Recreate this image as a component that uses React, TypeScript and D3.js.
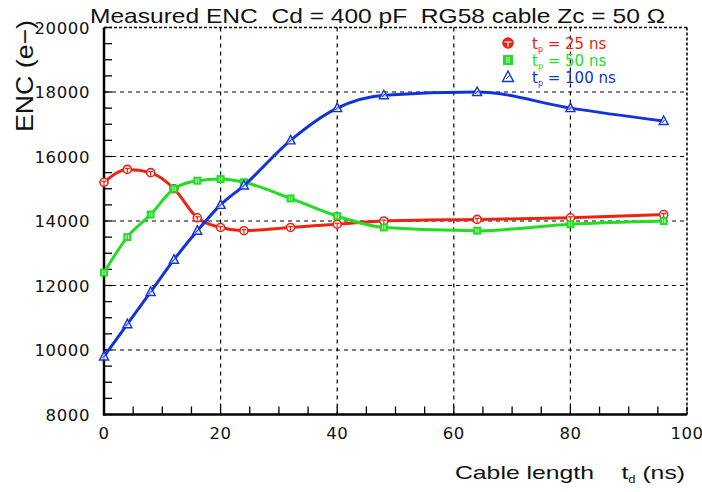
import React from "react";
import * as d3 from "d3";

const cableLength = [0, 4, 8, 12, 16, 20, 24, 32, 40, 48, 64, 80, 96];
const enc25 = [15200, 15600, 15500, 15000, 14100, 13800, 13700, 13800, 13900, 14000, 14050, 14100, 14200];
const enc50 = [12400, 13500, 14200, 15000, 15250, 15300, 15200, 14700, 14150, 13800, 13700, 13900, 14000];
const enc100 = [9800, 10800, 11800, 12800, 13700, 14500, 15100, 16500, 17500, 17900, 18000, 17500, 17100];
const xTicks = [0, 20, 40, 60, 80, 100];
const yTicks = [8000, 10000, 12000, 14000, 16000, 18000, 20000];
const seriesNames = ["25", "50", "100"];

const W = 702, H = 492;
const ML = 104, MR = 687, MT = 27.5, MB = 414.5;
const SANS = "'Liberation Sans', Arial, sans-serif";
const WIDE = "'DejaVu Sans', sans-serif";

export default function App() {
  const x = d3.scaleLinear().domain([0, 100]).range([ML, MR]);
  const y = d3.scaleLinear().domain([8000, 20000]).range([MB, MT]);
  const line = d3.line<[number, number]>()
    .x(d => x(d[0])).y(d => y(d[1]))
    .curve(d3.curveMonotoneX);
  const series = [
    { name: seriesNames[0], vals: enc25, color: "#ee2211", marker: "circle" },
    { name: seriesNames[1], vals: enc50, color: "#22dd22", marker: "square" },
    { name: seriesNames[2], vals: enc100, color: "#1133dd", marker: "triangle" },
  ];
  const minorX = d3.range(0, 101, 5);
  const minorY = d3.range(8000, 20001, 500);

  const marker = (type: string, cx: number, cy: number, color: string, key: string, big = false) => {
    const r = big ? 5 : 4;
    if (type === "circle")
      return (
        <g key={key}>
          <circle cx={cx} cy={cy} r={r} fill={big ? color : "white"} stroke={color} strokeWidth={1.6} />
          <line x1={cx - r + 1.5} x2={cx + r - 1.5} y1={cy - 1} y2={cy - 1} stroke={big ? "white" : color} strokeWidth={1.2} />
          <line x1={cx} x2={cx} y1={cy - 1} y2={cy + r - 1} stroke={big ? "white" : color} strokeWidth={1.2} />
        </g>
      );
    if (type === "square")
      return (
        <g key={key}>
          <rect x={cx - r} y={cy - r} width={2 * r} height={2 * r} fill={color} />
          <line x1={cx - 1.2} x2={cx - 1.2} y1={cy - r + 2} y2={cy + r - 2} stroke="white" strokeWidth={0.9} />
          <line x1={cx + 1.2} x2={cx + 1.2} y1={cy - r + 2} y2={cy + r - 2} stroke="white" strokeWidth={0.9} />
        </g>
      );
    return (
      <g key={key}>
        <path d={`M${cx},${cy - r - 1}L${cx + r + 0.5},${cy + r - 0.5}L${cx - r - 0.5},${cy + r - 0.5}Z`} fill="white" fillOpacity={0.7} stroke={color} strokeWidth={1.4} />
        <line x1={cx - 2} x2={cx + 1.5} y1={cy + 2} y2={cy - 1.5} stroke={color} strokeWidth={1} />
      </g>
    );
  };

  return (
    <svg width={W} height={H} style={{ position: "absolute", left: 0, top: 0, background: "white" }} fontFamily={SANS}>
      <rect width={W} height={H} fill="white" />
      {/* grid */}
      {xTicks.slice(1, -1).map(t => (
        <line key={"gx" + t} x1={x(t)} x2={x(t)} y1={MT} y2={MB} stroke="#000" strokeWidth={1.2} strokeDasharray="4,4" />
      ))}
      {yTicks.slice(1, -1).map(t => (
        <line key={"gy" + t} x1={ML} x2={MR} y1={y(t)} y2={y(t)} stroke="#000" strokeWidth={1.2} strokeDasharray="4,4" />
      ))}
      {/* frame top/right dashed */}
      <line x1={ML} x2={MR} y1={MT} y2={MT} stroke="#000" strokeWidth={1.5} strokeDasharray="3,2" />
      <line x1={MR} x2={MR} y1={MT} y2={MB} stroke="#000" strokeWidth={1.5} strokeDasharray="3,2" />
      {/* ticks */}
      {minorX.map(t => (
        <line key={"tx" + t} x1={x(t)} x2={x(t)} y1={MB} y2={MB - 8} stroke="#000" strokeWidth={1.3} />
      ))}
      {minorY.map(t => (
        <line key={"ty" + t} x1={ML} x2={ML + 8} y1={y(t)} y2={y(t)} stroke="#000" strokeWidth={1.3} />
      ))}
      {/* axes */}
      <line x1={ML} x2={ML} y1={MT} y2={MB + 1} stroke="#000" strokeWidth={2.5} />
      <line x1={ML - 1} x2={MR} y1={MB} y2={MB} stroke="#000" strokeWidth={2.5} />
      {/* tick labels */}
      {xTicks.map(t => (
        <text key={"lx" + t} x={x(t)} y={MB + 24} fontSize={16.5} fontFamily={WIDE} letterSpacing={0.5} textAnchor="middle" fill="#111">{t}</text>
      ))}
      {yTicks.map(t => (
        <text key={"ly" + t} x={90} y={y(t) + 6} fontSize={16.5} fontFamily={WIDE} letterSpacing={0.6} textAnchor="end" fill="#111">{t}</text>
      ))}
      {/* series */}
      {series.map(s => (
        <g key={s.name}>
          <path d={line(cableLength.map((c, i) => [c, s.vals[i]] as [number, number])) || ""} fill="none" stroke={s.color} strokeWidth={3} />
          {cableLength.map((c, i) => marker(s.marker, x(c), y(s.vals[i]), s.color, s.name + i))}
        </g>
      ))}
      {/* legend */}
      {series.map((s, i) => (
        <g key={"leg" + s.name}>
          {marker(s.marker, 508, 43 + i * 17, s.color, "lm" + i, true)}
          <text x={532} y={48.5 + i * 17} fontSize={15} fontFamily={WIDE} fill={s.color} style={{ whiteSpace: "pre" }}>
            t<tspan fontSize={8} dy={3}>p</tspan><tspan dy={-3}>{" = " + s.name + " ns"}</tspan>
          </text>
        </g>
      ))}
      {/* title */}
      <text x={90} y={23} fontSize={21} textLength={575} lengthAdjust="spacingAndGlyphs" fill="#111" style={{ whiteSpace: "pre" }}>Measured ENC  Cd = 400 pF  RG58 cable Zc = 50 Ω</text>
      {/* axis titles */}
      <text x={455} y={479} fontSize={19} textLength={230} lengthAdjust="spacingAndGlyphs" fill="#111" style={{ whiteSpace: "pre" }}>
        Cable length    t<tspan fontSize={10} dy={4}>d</tspan><tspan dy={-4}> (ns)</tspan>
      </text>
      <text transform={`translate(33,132) rotate(-90)`} fontSize={24} textLength={112} lengthAdjust="spacingAndGlyphs" fill="#111">ENC (e−)</text>
    </svg>
  );
}
